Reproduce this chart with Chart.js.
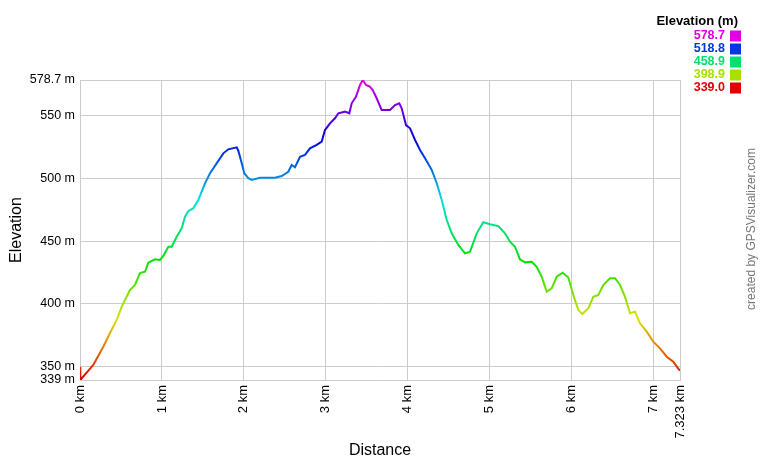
<!DOCTYPE html>
<html>
<head>
<meta charset="utf-8">
<title>Elevation profile</title>
<script src="https://cdn.jsdelivr.net/npm/chart.js@4"></script>
<style>
    body { margin: 0; background: #fff; }
    canvas { display: block; }
</style>
</head>
<body>
<canvas id="profile" width="760" height="460"></canvas>
<script>
// Track profile: distance (km) and elevation (m)
const distanceKm = [
    0, 0.004, 0.162, 0.284, 0.366, 0.448, 0.509, 0.610, 0.671, 0.732,
    0.793, 0.834, 0.915, 0.976, 1.017, 1.078, 1.119, 1.180, 1.241, 1.282,
    1.322, 1.383, 1.444, 1.485, 1.526, 1.587, 1.668, 1.749, 1.810, 1.913,
    1.932, 1.974, 2.005, 2.054, 2.096, 2.197, 2.380, 2.462, 2.542, 2.584,
    2.624, 2.685, 2.746, 2.807, 2.889, 2.950, 2.990, 3.051, 3.112, 3.153,
    3.234, 3.287, 3.316, 3.369, 3.418, 3.451, 3.491, 3.540, 3.573, 3.621,
    3.682, 3.784, 3.845, 3.897, 3.926, 3.979, 4.028, 4.089, 4.150, 4.211,
    4.293, 4.354, 4.415, 4.476, 4.537, 4.617, 4.699, 4.760, 4.842, 4.922,
    5.004, 5.106, 5.187, 5.248, 5.309, 5.370, 5.431, 5.513, 5.574, 5.635,
    5.696, 5.757, 5.818, 5.891, 5.960, 6.021, 6.082, 6.131, 6.204, 6.265,
    6.326, 6.387, 6.469, 6.530, 6.591, 6.652, 6.713, 6.774, 6.835, 6.917,
    6.997, 7.079, 7.161, 7.241, 7.315, 7.323
];
const elevationM = [
    349.6, 339.0, 351.0, 365.6, 376.6, 386.9, 397.6, 410.9, 414.9, 424.5,
    425.5, 432.7, 435.4, 434.9, 438.1, 445.5, 445.5, 453.5, 460.2, 469.5,
    474.0, 476.2, 482.8, 489.5, 496.2, 504.2, 512.1, 520.1, 523.3, 524.9,
    522.2, 512.1, 504.2, 500.2, 498.8, 500.6, 500.6, 502.0, 505.4, 510.8,
    509.0, 517.4, 518.8, 524.1, 526.8, 529.4, 538.7, 544.1, 548.1, 552.1,
    553.4, 552.1, 560.1, 565.4, 574.7, 578.7, 574.7, 573.3, 570.7, 564.1,
    554.7, 554.7, 558.7, 560.1, 556.1, 542.7, 540.1, 530.8, 522.8, 516.2,
    506.8, 496.2, 482.8, 466.8, 456.2, 446.9, 440.2, 441.5, 456.2, 465.0,
    463.4, 462.0, 456.2, 449.5, 445.5, 435.4, 433.0, 433.5, 429.5, 421.5,
    409.6, 412.3, 421.5, 424.7, 420.9, 406.9, 394.9, 391.7, 396.3, 405.5,
    406.9, 414.9, 420.3, 420.3, 414.9, 405.5, 392.3, 393.6, 384.3, 377.6,
    369.6, 364.3, 357.6, 353.6, 347.0, 346.5
];

const yTicks = [339, 350, 400, 450, 500, 550, 578.7];
const xTicks = [0, 1, 2, 3, 4, 5, 6, 7, 7.323];
const legendValues = ['578.7', '518.8', '458.9', '398.9', '339.0'];

const elevMin = 339;
const elevMax = 578.7;
const FONT = '"Liberation Sans", Arial, sans-serif';

// red at the lowest point, magenta at the highest
function elevColor(v) {
    const hue = (v - elevMin) / (elevMax - elevMin) * 300;
    return `hsl(${hue}, 100%, 44%)`;
}

// legend box and credit line, drawn on top of the chart
const extrasPlugin = {
    id: 'extras',
    afterDraw(chart) {
        const ctx = chart.ctx;
        ctx.save();
        ctx.textAlign = 'right';
        ctx.textBaseline = 'middle';
        ctx.fillStyle = '#000';
        ctx.font = `bold 13px ${FONT}`;
        ctx.fillText('Elevation (m)', 738, 21);

        ctx.font = `bold 12.5px ${FONT}`;
        legendValues.forEach((label, i) => {
            const y = 36 + i * 13;
            const c = elevColor(parseFloat(label));
            ctx.fillStyle = c;
            ctx.fillText(label, 725, y);
            ctx.fillRect(730, y - 5.5, 11, 11);
        });

        ctx.translate(752, 229);
        ctx.rotate(-Math.PI / 2);
        ctx.textAlign = 'center';
        ctx.font = `12px ${FONT}`;
        ctx.fillStyle = '#777';
        ctx.fillText('created by GPSVisualizer.com', 0, 0);
        ctx.restore();
    }
};

const chart = new Chart(document.getElementById('profile'), {
    type: 'line',
    data: {
        datasets: [{
            data: distanceKm.map((d, i) => ({ x: d, y: elevationM[i] })),
            borderWidth: 2,
            pointRadius: 0,
            tension: 0,
            borderColor: (context) => {
                const c = context.chart;
                if (!c.chartArea || !c.scales.y) return '#e00';
                const ys = c.scales.y;
                const g = c.ctx.createLinearGradient(0, ys.getPixelForValue(elevMin), 0, ys.getPixelForValue(elevMax));
                for (let i = 0; i <= 10; i++) {
                    g.addColorStop(i / 10, elevColor(elevMin + (elevMax - elevMin) * i / 10));
                }
                return g;
            }
        }]
    },
    options: {
        responsive: false,
        animation: false,
        layout: { padding: { left: 0, top: 80, right: 80, bottom: 0 } },
        plugins: {
            legend: { display: false },
            tooltip: { enabled: false }
        },
        scales: {
            x: {
                type: 'linear',
                min: 0,
                max: 7.323,
                afterBuildTicks: (scale) => {
                    scale.ticks = xTicks.map(v => ({ value: v }));
                },
                afterFit: (scale) => { scale.height = 80; },
                grid: { color: '#ccc', drawTicks: false },
                border: { color: '#ccc' },
                ticks: {
                    autoSkip: false,
                    minRotation: 90,
                    maxRotation: 90,
                    padding: 5,
                    color: '#000',
                    font: { family: FONT, size: 13 },
                    callback: (v) => `${v} km`
                },
                title: {
                    display: true,
                    text: 'Distance',
                    color: '#000',
                    font: { family: FONT, size: 16 },
                    padding: { top: 0, bottom: 0 }
                }
            },
            y: {
                min: elevMin,
                max: elevMax,
                afterBuildTicks: (scale) => {
                    scale.ticks = yTicks.map(v => ({ value: v }));
                },
                afterFit: (scale) => { scale.width = 80; },
                grid: { color: '#ccc', drawTicks: false },
                border: { color: '#ccc' },
                ticks: {
                    autoSkip: false,
                    padding: 5,
                    color: '#000',
                    font: { family: FONT, size: 12.5 },
                    callback: (v) => `${v} m`
                },
                title: {
                    display: true,
                    text: 'Elevation',
                    color: '#000',
                    font: { family: FONT, size: 16 },
                    padding: { top: 7, bottom: 0 }
                }
            }
        }
    },
    plugins: [extrasPlugin]
});
</script>
</body>
</html>
